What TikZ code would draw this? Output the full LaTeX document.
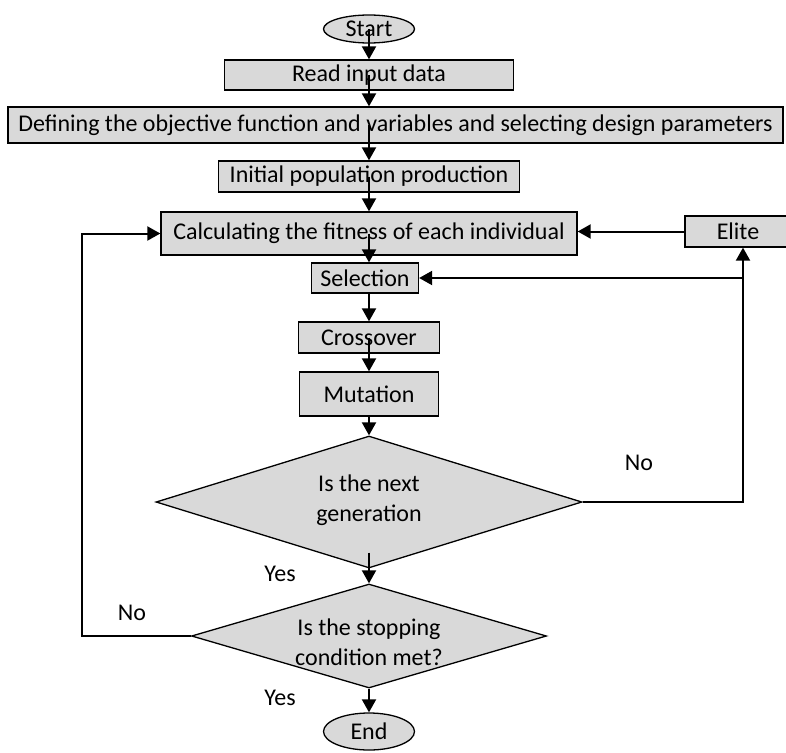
\documentclass[tikz,border=0pt]{standalone}
\usepackage{fontspec}
\setmainfont{Carlito}
\usepackage{xcolor}
\usetikzlibrary{
  arrows.meta,
  positioning,
  calc,
  shapes.geometric}
\definecolor{boxgray}{HTML}{D9D9D9}
\tikzset{every picture/.style={font issue=\fontsize{24}{30}},
         font issue/.style={execute at begin picture={#1\selectfont}}
        }
\tikzset{
  procbox/.style={draw, fill=boxgray, line width=1.3pt, rectangle, inner sep=0pt},
  termbox/.style={draw, fill=boxgray, line width=1.3pt, ellipse, inner sep=0pt},
  askbox/.style={draw, fill=boxgray, line width=1.3pt, diamond, inner sep=0pt},
  flow/.style={line width=2pt, -{Triangle[length=13pt,width=14pt]}},
  link/.style={line width=2pt}
}

\begin{document}
\begin{tikzpicture}[x=1pt, y=-1pt]

\useasboundingbox (0,0) rectangle (786,752);

%main column
\node[termbox, minimum width=91, minimum height=28] (start) at (369,29) {Start};
\node[procbox, minimum width=289, minimum height=30] (read) at (369,75) {Read input data};
\node[procbox, minimum width=775, minimum height=36] (define) at (395.5,125)
  {Defining the objective function and variables and selecting design parameters};
\node[procbox, minimum width=301, minimum height=31] (init) at (369,176.5) {Initial population production};
\node[procbox, minimum width=416, minimum height=43] (calc) at (369,233.5) {Calculating the fitness of each individual};
\node[procbox, minimum width=107, minimum height=30] (select) at (365,278) {Selection};
\node[procbox, minimum width=141, minimum height=31] (cross) at (369,337.5) {Crossover};
\node[procbox, minimum width=139, minimum height=44] (mutate) at (369,394) {Mutation};

%decisions
\node[askbox, minimum width=426, minimum height=132] (gen) at (369,502) {};
\node[align=center] (gentext) at (369,500) {Is the next\\generation};
\node[askbox, minimum width=355, minimum height=104] (stop) at (369,636) {};
\node[align=center] (stoptext) at (369,642) {Is the stopping\\condition met?};
\node[termbox, minimum width=91, minimum height=37] (finish) at (369,731.5) {End};

\node[procbox, minimum width=106, minimum height=31] (elite) at (738,231.5) {Elite};

\coordinate (rturn) at (743,502);
\coordinate (lturn) at (82,636);

%labels
\node (noright) at (639,463) {No};
\node (noleft) at (132,613) {No};
\node (yesgen) at (280,574) {Yes};
\node (yesstop) at (280,698) {Yes};

%arrows
\draw[flow] (start.center) -- (read.north);
\draw[flow] (read.center) -- (read.center |- define.north);
\draw[flow] (read.center |- define.center) -- (init.north);
\draw[flow] (init.center) -- (calc.north);
\draw[flow] (calc.center) -- (calc.center |- select.north);
\draw[flow] (cross.north |- select.south) -- (cross.north);
\draw[flow] (cross.center) -- (mutate.north);
\draw[flow] (mutate.south) -- (gen.north);
\draw[flow, shorten <=-16pt] (gen.south) -- (stop.north);
\draw[flow] (stop.south) -- (finish.north);

\draw[flow] (gen.east) -- (rturn) -- (rturn |- elite.south);
\draw[flow] (rturn |- select.east) -- (select.east);
\draw[flow] (elite.west) -- (elite.west -| calc.east);
\draw[flow] (stop.west) -- (lturn) -- (lturn |- calc.west) -- (calc.west);

\end{tikzpicture}
\end{document}
